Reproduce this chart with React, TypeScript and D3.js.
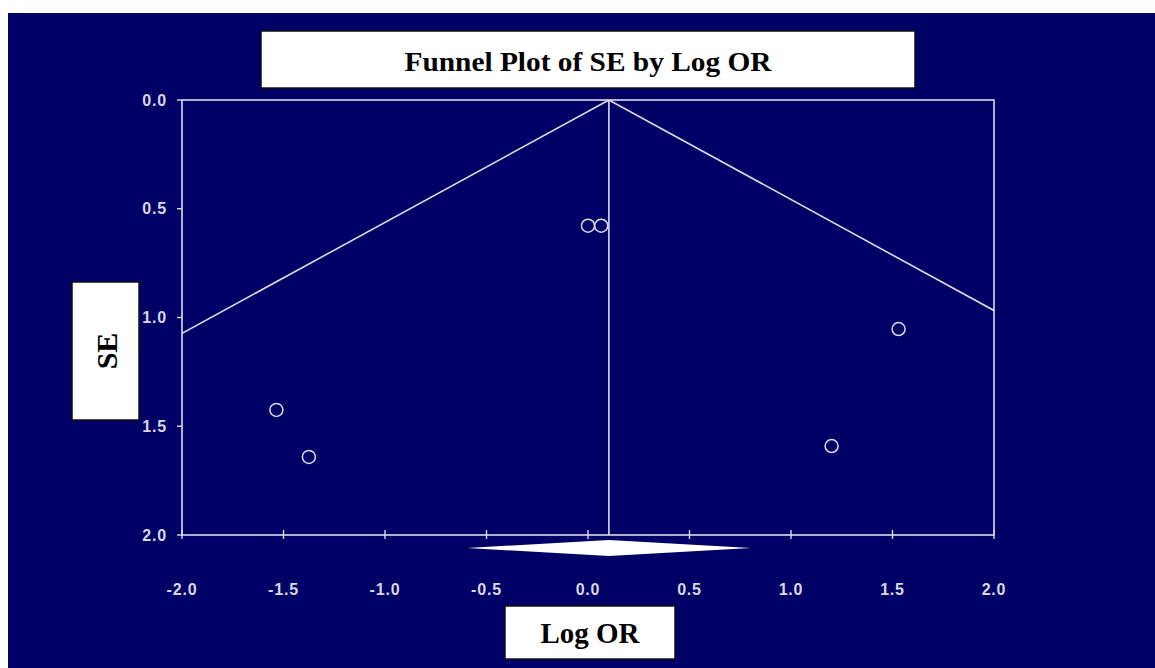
import React, { useEffect, useRef } from "react";
import * as d3 from "d3";

// study estimates
const logOR = [0.0, 0.065, 1.53, -1.535, -1.375, 1.2];
const se = [0.578, 0.578, 1.053, 1.425, 1.641, 1.591];

// pooled estimate and its confidence interval (diamond)
const pooled = 0.103;
const pooledLow = -0.596;
const pooledHigh = 0.803;

const xTicks = [-2, -1.5, -1, -0.5, 0, 0.5, 1, 1.5, 2];
const yTicks = [0, 0.5, 1, 1.5, 2];

const NAVY = "#000066";
const LINE = "#dcdce6";
const SERIF = "Liberation Serif, Times New Roman, serif";
const SANS = "Liberation Sans, Arial, sans-serif";

export default function App() {
  const ref = useRef<SVGSVGElement>(null);

  useEffect(() => {
    const svg = d3.select(ref.current);
    svg.selectAll("*").remove();

    const width = 1155;
    const height = 668;
    const plot = { left: 182, right: 994, top: 100, bottom: 535 };

    const x = d3.scaleLinear().domain([-2, 2]).range([plot.left, plot.right]);
    const y = d3.scaleLinear().domain([0, 2]).range([plot.top, plot.bottom]);
    const fmt = (v: number) => d3.format(".1f")(v).replace("\u2212", "-");

    svg.append("rect").attr("x", 0).attr("y", 0).attr("width", width).attr("height", height).attr("fill", "#fff");
    svg.append("rect").attr("x", 8).attr("y", 13).attr("width", width - 8).attr("height", height - 13).attr("fill", NAVY);

    // title box
    svg.append("rect")
      .attr("x", 261).attr("y", 31).attr("width", 654).attr("height", 57)
      .attr("fill", "#fff").attr("stroke", "#111").attr("stroke-width", 1.5);
    svg.append("text")
      .attr("x", 588).attr("y", 61)
      .attr("text-anchor", "middle").attr("dominant-baseline", "central")
      .attr("font-family", SERIF)
      .attr("font-weight", "bold").attr("font-size", 28)
      .attr("textLength", 367).attr("lengthAdjust", "spacingAndGlyphs")
      .text("Funnel Plot of SE by Log OR");

    svg.append("defs").append("clipPath").attr("id", "plotclip")
      .append("rect")
      .attr("x", plot.left).attr("y", plot.top)
      .attr("width", plot.right - plot.left).attr("height", plot.bottom - plot.top);

    // funnel lines
    const funnel = svg.append("g").attr("clip-path", "url(#plotclip)");
    [-1, 1].forEach((s) => {
      funnel.append("line")
        .attr("x1", x(pooled)).attr("y1", y(0))
        .attr("x2", x(pooled + s * 1.96 * 2)).attr("y2", y(2))
        .attr("stroke", LINE).attr("stroke-width", 1.6);
    });
    svg.append("line")
      .attr("x1", x(pooled)).attr("x2", x(pooled))
      .attr("y1", y(0)).attr("y2", y(2))
      .attr("stroke", LINE).attr("stroke-width", 1.6);

    // frame
    svg.append("rect")
      .attr("x", plot.left).attr("y", plot.top)
      .attr("width", plot.right - plot.left).attr("height", plot.bottom - plot.top)
      .attr("fill", "none").attr("stroke", LINE).attr("stroke-width", 1.6);

    // y ticks
    const yAxis = svg.append("g");
    yTicks.forEach((t) => {
      yAxis.append("line")
        .attr("x1", plot.left - 5).attr("x2", plot.left)
        .attr("y1", y(t)).attr("y2", y(t))
        .attr("stroke", LINE).attr("stroke-width", 1.4);
      yAxis.append("text")
        .attr("x", 167).attr("y", y(t))
        .attr("text-anchor", "end").attr("dominant-baseline", "central")
        .attr("font-family", SANS)
        .attr("font-weight", "bold").attr("font-size", 16)
        .attr("letter-spacing", 0.8)
        .attr("fill", "#d8d8e0")
        .text(fmt(t));
    });

    // x ticks
    const xAxis = svg.append("g");
    xTicks.forEach((t) => {
      xAxis.append("line")
        .attr("x1", x(t)).attr("x2", x(t))
        .attr("y1", plot.bottom - 5).attr("y2", plot.bottom + 4)
        .attr("stroke", LINE).attr("stroke-width", 1.4);
      xAxis.append("text")
        .attr("x", x(t)).attr("y", 589)
        .attr("text-anchor", "middle").attr("dominant-baseline", "central")
        .attr("font-family", SANS)
        .attr("font-weight", "bold").attr("font-size", 16)
        .attr("letter-spacing", 0.8)
        .attr("fill", "#d8d8e0")
        .text(fmt(t));
    });

    // pooled diamond
    const dy = 548;
    svg.append("path")
      .attr("d", `M${x(pooledLow)},${dy} L${x(pooled)},${dy - 8} L${x(pooledHigh)},${dy} L${x(pooled)},${dy + 8} Z`)
      .attr("fill", "#fff");

    // studies
    svg.append("g")
      .selectAll("circle")
      .data(logOR.map((v, i) => [v, se[i]]))
      .join("circle")
      .attr("cx", (d) => x(d[0]))
      .attr("cy", (d) => y(d[1]))
      .attr("r", 6.5)
      .attr("fill", "none")
      .attr("stroke", LINE)
      .attr("stroke-width", 1.5);

    // y label box
    svg.append("rect")
      .attr("x", 72).attr("y", 282).attr("width", 67).attr("height", 138)
      .attr("fill", "#fff").attr("stroke", "#111").attr("stroke-width", 1.5);
    svg.append("text")
      .attr("transform", "translate(106,351) rotate(-90)")
      .attr("text-anchor", "middle").attr("dominant-baseline", "central")
      .attr("font-family", SERIF)
      .attr("font-weight", "bold").attr("font-size", 30)
      .text("SE");

    // x label box
    svg.append("rect")
      .attr("x", 505).attr("y", 606).attr("width", 170).attr("height", 53)
      .attr("fill", "#fff").attr("stroke", "#111").attr("stroke-width", 1.5);
    svg.append("text")
      .attr("x", 590).attr("y", 633)
      .attr("text-anchor", "middle").attr("dominant-baseline", "central")
      .attr("font-family", SERIF)
      .attr("font-weight", "bold").attr("font-size", 29)
      .text("Log OR");
  }, []);

  return (
    <svg
      ref={ref}
      width={1155}
      height={668}
      style={{ position: "fixed", top: 0, left: 0, display: "block" }}
    />
  );
}
